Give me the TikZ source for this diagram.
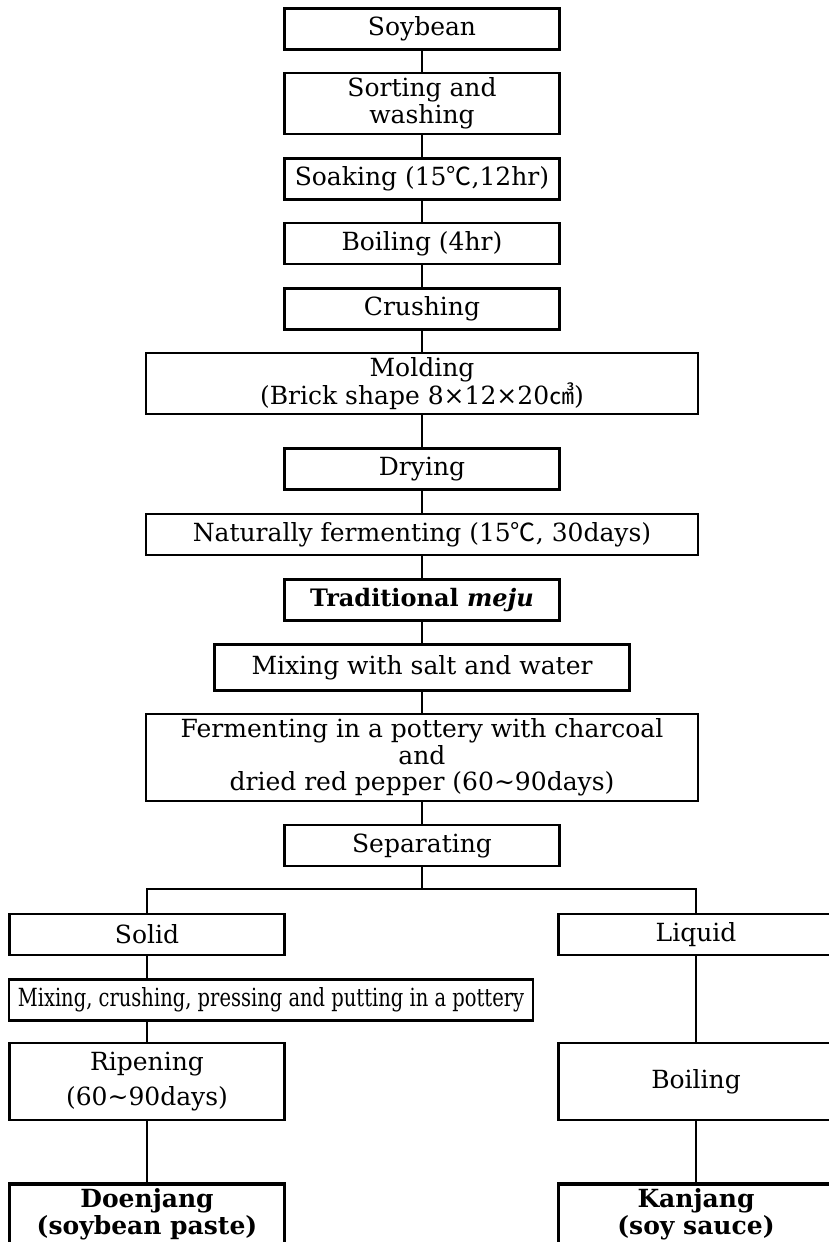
\documentclass[tikz,border=0pt]{standalone}
\usepackage{fontspec}
\setmainfont{DejaVu Serif}
\newfontfamily\cjk{Noto Sans CJK KR}
\usepackage{graphicx}

\begin{document}
\begin{tikzpicture}[x=1pt, y=-1pt, line width=2.1pt,
  every node/.style={draw, align=center, inner sep=0pt, font=\fontsize{25}{26.5}\selectfont},
  box/.style={minimum width=275pt, minimum height=41pt},
  widebox/.style={minimum width=552pt, minimum height=41pt},
  endbox/.style={minimum width=275pt, line width=3.8pt, anchor=north, inner ysep=5pt, text depth=60pt}]
  \useasboundingbox (0,0) rectangle (828,1242);
  \node (soy) [box] at (422,29) {Soybean};
  \node (sort) [box, minimum height=61pt] at (422,103.5) {Sorting and\\washing};
  \node (soak) [box] at (422,179) {Soaking (15{\cjk ℃},12hr)};
  \node (boil) [box] at (422,243.5) {Boiling (4hr)};
  \node (crush) [box] at (422,309) {Crushing};
  \node (mold) [widebox, minimum height=61pt] at (422,383.5) {Molding\\(Brick shape 8×12×20{\cjk ㎤})};
  \node (dry) [box] at (422,469) {Drying};
  \node (nat) [widebox] at (422,534.5) {Naturally fermenting (15{\cjk ℃}, 30days)};
  \node (meju) [box] at (422,600) {\fontsize{24}{26}\selectfont\textbf{Traditional \textit{meju}}};
  \node (salt) [box, minimum width=415pt, minimum height=46pt] at (422,667.5) {Mixing with salt and water};
  \node (ferm) [widebox, minimum height=87pt] at (422,757.5) {Fermenting in a pottery with charcoal\\and\\dried red pepper (60\textasciitilde90days)};
  \node (sep) [box] at (422,845.5) {Separating};
  \coordinate (split) at (422,889);
  \node (solid) [box] at (147,934.5) {Solid};
  \node (liquid) [box] at (696,934.5) {Liquid};
  \node (mixc) [box, minimum width=524pt] at (271,1000) {\scalebox{0.78}[1]{Mixing, crushing, pressing and putting in a pottery}};
  \node (ripen) [box, minimum height=77pt] at (147,1081.5) {Ripening\\[9pt](60\textasciitilde90days)};
  \node (boil2) [box, minimum height=77pt] at (696,1081.5) {Boiling};
  \node (doen) [endbox] at (147,1182) {\textbf{Doenjang}\\\textbf{(soybean paste)}};
  \node (kan) [endbox] at (696,1182) {\textbf{Kanjang}\\\textbf{(soy sauce)}};
  \foreach \a/\b in {soy/sort, sort/soak, soak/boil, boil/crush, crush/mold, mold/dry, dry/nat,
    nat/meju, meju/salt, salt/ferm, ferm/sep}
    \draw (\a) -- (\b);
  \draw (sep) -- (split);
  \draw (solid.north) |- (split) -| (liquid.north);
  \draw (solid.south) -- (solid.south |- mixc.north);
  \draw (solid.south |- mixc.south) -- (ripen.north);
  \draw (ripen) -- (doen);
  \draw (liquid) -- (boil2);
  \draw (boil2) -- (kan);
\end{tikzpicture}
\end{document}
